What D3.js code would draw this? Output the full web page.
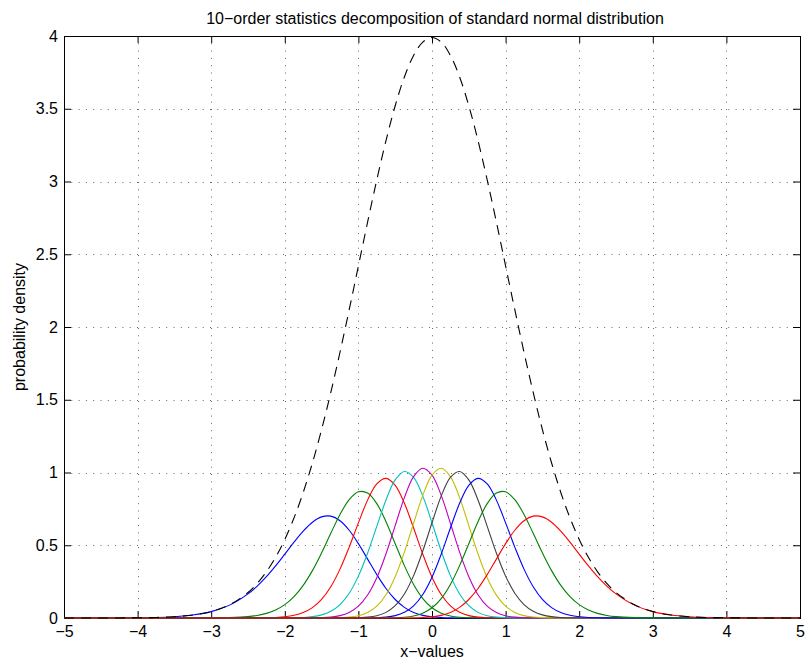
<!DOCTYPE html>
<html>
<head>
<meta charset="utf-8">
<script src="https://cdn.jsdelivr.net/npm/d3@7"></script>
<style>
  body { margin: 0; background: #fff; }
  svg text { font-family: "Liberation Sans", Arial, Helvetica, sans-serif; fill: #000; }
</style>
</head>
<body>
<div id="chart"></div>
<script>
// sample points along the x axis (finer in the middle where the curves bend)
const xValues = [-5,-4.75,-4.5,-4.25,-4,-3.75,-3.5,-3.25,-3,-2.75,
  -2.5,-2.375,-2.25,-2.125,-2,-1.875,-1.75,-1.625,-1.5,-1.375,-1.25,-1.125,-1,-0.875,-0.75,-0.625,-0.5,-0.375,-0.25,-0.125,
  0,0.125,0.25,0.375,0.5,0.625,0.75,0.875,1,1.125,1.25,1.375,1.5,1.625,1.75,1.875,2,2.125,2.25,2.375,2.5,
  2.75,3,3.25,3.5,3.75,4,4.25,4.5,4.75,5];

// densities of the 10 order statistics
const order1 = [0.00001,0.00005,0.00016,0.00045,0.00134,0.00353,0.00871,0.02019,0.04376,0.08849,
  0.16574,0.21958,0.28415,0.35825,0.43882,0.52105,0.59711,0.65840,0.69508,0.69996,0.66885,0.60317,0.51095,0.40483,0.29802,0.20297,0.12720,0.07303,0.03822,0.01815,
  0.00779,0.00301,0.00104,0.00032,0.00009,0.00002,0,0,0,0,0,0,0,0,0,0,0,0,0,0,0,
  0,0,0,0,0,0,0,0,0,0];
const order2 = [0,0,0,0,0,0,0.00002,0.00011,0.00053,0.00238,
  0.00932,0.01749,0.03164,0.05507,0.09194,0.14702,0.22427,0.32557,0.44787,0.58193,0.71109,0.81328,0.86717,0.85900,0.78601,0.66196,0.51082,0.35991,0.23057,0.13380,
  0.07013,0.03309,0.01401,0.00531,0.00180,0.00054,0.00015,0.00003,0.00001,0,0,0,0,0,0,0,0,0,0,0,0,
  0,0,0,0,0,0,0,0,0,0];
const order3 = [0,0,0,0,0,0,0,0,0,0.00003,
  0.00023,0.00062,0.00157,0.00376,0.00856,0.01844,0.03744,0.07155,0.12826,0.21502,0.33601,0.48737,0.65412,0.81009,0.92134,0.95951,0.91175,0.78833,0.61817,0.43836,
  0.28051,0.16158,0.08362,0.03881,0.01613,0.00600,0.00199,0.00059,0.00016,0.00004,0.00001,0,0,0,0,0,0,0,0,0,0,
  0,0,0,0,0,0,0,0,0,0];
const order4 = [0,0,0,0,0,0,0,0,0,0,
  0,0.00001,0.00005,0.00015,0.00047,0.00135,0.00365,0.00917,0.02143,0.04635,0.09262,0.17037,0.28783,0.44564,0.62998,0.81130,0.94928,1.00723,0.96675,0.83775,
  0.65451,0.46031,0.29110,0.16538,0.08434,0.03860,0.01585,0.00584,0.00193,0.00057,0.00015,0.00004,0.00001,0,0,0,0,0,0,0,0,
  0,0,0,0,0,0,0,0,0,0];
const order5 = [0,0,0,0,0,0,0,0,0,0,
  0,0,0,0,0.00002,0.00006,0.00023,0.00076,0.00230,0.00642,0.01641,0.03829,0.08142,0.15760,0.27692,0.44099,0.63538,0.82732,0.97197,1.02924,
  0.98177,0.84300,0.65146,0.45302,0.28351,0.15980,0.08115,0.03716,0.01535,0.00574,0.00194,0.00059,0.00017,0.00004,0.00001,0,0,0,0,0,0,
  0,0,0,0,0,0,0,0,0,0];
const order6 = [0,0,0,0,0,0,0,0,0,0,
  0,0,0,0,0,0,0.00001,0.00004,0.00017,0.00059,0.00194,0.00574,0.01535,0.03716,0.08115,0.15980,0.28351,0.45302,0.65146,0.84300,
  0.98177,1.02924,0.97197,0.82732,0.63538,0.44099,0.27692,0.15760,0.08142,0.03829,0.01641,0.00642,0.00230,0.00076,0.00023,0.00006,0.00002,0,0,0,0,
  0,0,0,0,0,0,0,0,0,0];
const order7 = [0,0,0,0,0,0,0,0,0,0,
  0,0,0,0,0,0,0,0,0.00001,0.00004,0.00015,0.00057,0.00193,0.00584,0.01585,0.03860,0.08434,0.16538,0.29110,0.46031,
  0.65451,0.83775,0.96675,1.00723,0.94928,0.81130,0.62998,0.44564,0.28783,0.17037,0.09262,0.04635,0.02143,0.00917,0.00365,0.00135,0.00047,0.00015,0.00005,0.00001,0,
  0,0,0,0,0,0,0,0,0,0];
const order8 = [0,0,0,0,0,0,0,0,0,0,
  0,0,0,0,0,0,0,0,0,0,0.00001,0.00004,0.00016,0.00059,0.00199,0.00600,0.01613,0.03881,0.08362,0.16158,
  0.28051,0.43836,0.61817,0.78833,0.91175,0.95951,0.92134,0.81009,0.65412,0.48737,0.33601,0.21502,0.12826,0.07155,0.03744,0.01844,0.00856,0.00376,0.00157,0.00062,0.00023,
  0.00003,0,0,0,0,0,0,0,0,0];
const order9 = [0,0,0,0,0,0,0,0,0,0,
  0,0,0,0,0,0,0,0,0,0,0,0,0.00001,0.00003,0.00015,0.00054,0.00180,0.00531,0.01401,0.03309,
  0.07013,0.13380,0.23057,0.35991,0.51082,0.66196,0.78601,0.85900,0.86717,0.81328,0.71109,0.58193,0.44787,0.32557,0.22427,0.14702,0.09194,0.05507,0.03164,0.01749,0.00932,
  0.00238,0.00053,0.00011,0.00002,0,0,0,0,0,0];
const order10 = [0,0,0,0,0,0,0,0,0,0,
  0,0,0,0,0,0,0,0,0,0,0,0,0,0,0,0.00002,0.00009,0.00032,0.00104,0.00301,
  0.00779,0.01815,0.03822,0.07303,0.12720,0.20297,0.29802,0.40483,0.51095,0.60317,0.66885,0.69996,0.69508,0.65840,0.59711,0.52105,0.43882,0.35825,0.28415,0.21958,0.16574,
  0.08849,0.04376,0.02019,0.00871,0.00353,0.00134,0.00045,0.00016,0.00005,0.00001];

// the dashed curve: sum of the ten
const totalDensity = [0.00001,0.00005,0.00016,0.00048,0.00134,0.00353,0.00873,0.02029,0.04432,0.09094,
  0.17528,0.23771,0.31740,0.41724,0.53991,0.68790,0.86277,1.06543,1.29518,1.55017,1.82649,2.11875,2.41971,2.72055,3.01137,3.28161,3.52065,3.71855,3.86668,3.95837,
  3.98942,3.95837,3.86668,3.71855,3.52065,3.28161,3.01137,2.72055,2.41971,2.11875,1.82649,1.55017,1.29518,1.06543,0.86277,0.68790,0.53991,0.41724,0.31740,0.23771,0.17528,
  0.09094,0.04432,0.02029,0.00873,0.00353,0.00134,0.00048,0.00016,0.00005,0.00001];

const orderSeries = [order1, order2, order3, order4, order5, order6, order7, order8, order9, order10];
const lineColors = ["#0000ff","#008000","#ff0000","#00bfbf","#bf00bf","#bfbf00","#404040","#0000ff","#008000","#ff0000"];

const xTicks = [-5,-4,-3,-2,-1,0,1,2,3,4,5];
const yTicks = [0,0.5,1,1.5,2,2.5,3,3.5,4];

const titleText = "10\u2212order statistics decomposition of standard normal distribution";
const xLabel = "x\u2212values";
const yLabel = "probability density";

var width = 806, height = 664;
const margin = {left: 64, top: 36, right: 6, bottom: 46};
const plotW = width - margin.left - margin.right;
const plotH = height - margin.top - margin.bottom;
const fontSize = "16px";

const svg = d3.select("#chart").append("svg")
    .attr("width", width)
    .attr("height", height);

const g = svg.append("g")
    .attr("transform", "translate(" + margin.left + "," + margin.top + ")");

var x = d3.scaleLinear().domain([-5, 5]).range([0, plotW]);
var y = d3.scaleLinear().domain([0, 4]).range([plotH, 0]);

const fmt = v => (v < 0 ? "\u2212" + Math.abs(v) : String(v));

// dotted grid
g.append("g").selectAll("line")
  .data(xTicks.slice(1, -1))
  .enter().append("line")
    .attr("x1", d => Math.round(x(d)) + 0.5).attr("x2", d => Math.round(x(d)) + 0.5)
    .attr("y1", 0).attr("y2", plotH)
    .attr("stroke", "#666").attr("stroke-dasharray", "1,6.3");

g.append("g").selectAll("line")
  .data(yTicks.slice(1, -1))
  .enter().append("line")
    .attr("y1", d => Math.round(y(d)) + 0.5).attr("y2", d => Math.round(y(d)) + 0.5)
    .attr("x1", 0).attr("x2", plotW)
    .attr("stroke", "#666").attr("stroke-dasharray", "1,6.3");

// axes with inward ticks on all sides
g.append("g")
    .attr("transform", "translate(0," + plotH + ")")
    .call(d3.axisBottom(x).tickValues(xTicks).tickSize(-7).tickPadding(8).tickFormat(fmt));
g.append("g")
    .call(d3.axisLeft(y).tickValues(yTicks).tickSize(-7).tickPadding(6).tickFormat(d => String(d)));
g.append("g")
    .call(d3.axisTop(x).tickValues(xTicks).tickSize(-7).tickFormat(""));
g.append("g")
    .attr("transform", "translate(" + plotW + ",0)")
    .call(d3.axisRight(y).tickValues(yTicks).tickSize(-7).tickFormat(""));

g.selectAll(".domain").remove();
g.selectAll(".tick line").attr("stroke", "#000");
g.selectAll(".tick text")
    .style("font-size", fontSize)
    .style("font-family", "'Liberation Sans', Arial, sans-serif")
    .attr("fill", "#000");

g.append("rect")
    .attr("x", 0.5).attr("y", 0.5)
    .attr("width", plotW).attr("height", plotH)
    .attr("fill", "none").attr("stroke", "#000").attr("stroke-width", 1);

// curves
const line = d3.line()
    .x((d, i) => x(xValues[i]))
    .y(d => y(d))
    .curve(d3.curveCatmullRom.alpha(0.5));

g.append("g").selectAll("path")
  .data(orderSeries)
  .enter().append("path")
    .attr("d", d => line(d))
    .attr("fill", "none")
    .attr("stroke", (d, i) => lineColors[i])
    .attr("stroke-width", 1.1);

g.append("path")
    .attr("d", line(totalDensity))
    .attr("fill", "none")
    .attr("stroke", "#000")
    .attr("stroke-width", 1.1)
    .attr("stroke-dasharray", "10,7");

// labels
svg.append("text")
    .attr("x", margin.left + plotW / 2 + 3).attr("y", 24)
    .attr("text-anchor", "middle")
    .style("font-size", fontSize)
    .text(titleText);

svg.append("text")
    .attr("x", margin.left + plotW / 2).attr("y", 657)
    .attr("text-anchor", "middle")
    .style("font-size", fontSize)
    .text(xLabel);

svg.append("text")
    .attr("transform", "translate(25," + (margin.top + plotH / 2) + ") rotate(-90)")
    .attr("text-anchor", "middle")
    .style("font-size", fontSize)
    .text(yLabel);
</script>
</body>
</html>
